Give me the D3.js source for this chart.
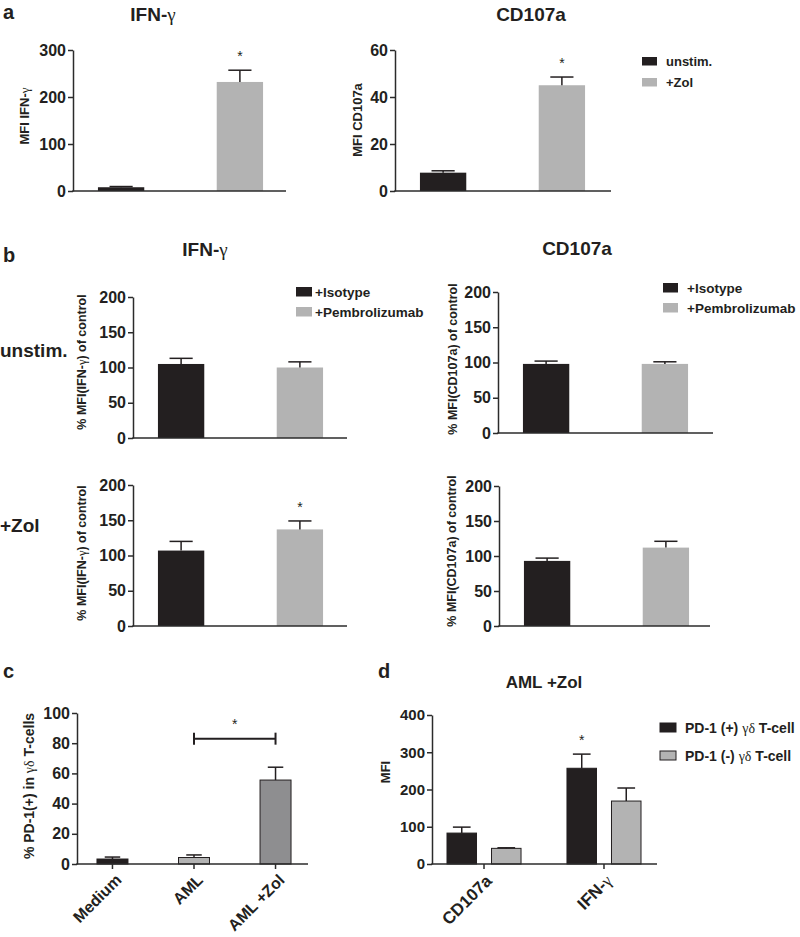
<!DOCTYPE html>
<html><head><meta charset="utf-8">
<script src="https://cdn.jsdelivr.net/npm/d3@7"></script>
<style>
body{margin:0;background:#fff;}
svg text{font-family:"Liberation Sans",Arial,Helvetica,sans-serif;font-weight:bold;fill:#231f20;}
</style></head><body>
<svg id="fig" width="800" height="937"></svg>
<script>
// ---------------- data ----------------
const aGroups = ["unstim.", "+Zol"];
const aIfnMean = [8, 232];
const aIfnSem = [1.5, 25];
const aIfnSig = [false, true];
const aCdMean = [7.8, 45];
const aCdSem = [0.8, 3.5];
const aCdSig = [false, true];
const aIfnTicks = [0, 100, 200, 300];
const aCdTicks = [0, 20, 40, 60];

const bGroups = ["+Isotype", "+Pembrolizumab"];
const bUnstimIfnMean = [105, 100];
const bUnstimIfnSem = [8, 8];
const bUnstimCdMean = [98, 98];
const bUnstimCdSem = [4, 3];
const bZolIfnMean = [107, 137];
const bZolIfnSem = [13, 12];
const bZolIfnSig = [false, true];
const bZolCdMean = [93, 112];
const bZolCdSem = [4, 9];
const bTicks = [0, 50, 100, 150, 200];

const cCategories = ["Medium", "AML", "AML +Zol"];
const cMean = [3.3, 4.3, 55.6];
const cSem = [1.3, 1.7, 8.5];
const cTicks = [0, 20, 40, 60, 80, 100];
const cBracketPair = ["AML", "AML +Zol"];
const cBracketValue = [83];

const dCategories = ["CD107a", "IFN-γ"];
const dSeries = ["PD-1 (+) γδ T-cell", "PD-1 (-) γδ T-cell"];
const dPosMean = [83, 257];
const dPosSem = [16, 38];
const dPosSig = [false, true];
const dNegMean = [42, 169];
const dNegSem = [1.5, 35];
const dTicks = [0, 100, 200, 300, 400];

// ---------------- styles ----------------
const DARK = "#231f20", LIGHT = "#b3b3b3", MID = "#8e8e90", AXIS = "#2b2b2b";
const svg = d3.select("#fig");

function addText(sel, str) {
  str.split(/([γδ])/).filter(s => s.length).forEach(s => {
    const t = sel.append("tspan").text(s);
    if (/[γδ]/.test(s)) t.style("font-family", "'Liberation Serif','DejaVu Serif',serif").style("font-weight", "normal");
  });
  return sel;
}
function label(x, y, str, size, anchor = "start", rot = 0) {
  const t = svg.append("text").attr("font-size", size).attr("text-anchor", anchor)
    .attr("transform", `translate(${x},${y}) rotate(${rot})`);
  addText(t, str);
  return t;
}
function yAxis(x0, x1, y0, yTop, max, ticks, fs) {
  const y = d3.scaleLinear().domain([0, max]).range([y0, yTop]);
  const g = svg.append("g").attr("transform", `translate(${x0},0)`)
    .call(d3.axisLeft(y).tickValues(ticks).tickSize(5).tickPadding(2).tickSizeOuter(0));
  g.attr("font-family", null).attr("font-size", fs);
  g.select(".domain").attr("stroke", AXIS).attr("stroke-width", 1.5);
  g.selectAll(".tick line").attr("stroke", AXIS).attr("stroke-width", 1.5);
  g.selectAll(".tick text").attr("fill", DARK);
  return y;
}
function xLine(x0, x1, y0) {
  svg.append("line").attr("x1", x0 - 0.75).attr("x2", x1).attr("y1", y0).attr("y2", y0)
    .attr("stroke", AXIS).attr("stroke-width", 1.5);
}
function errBar(cx, bw, yTopVal, yMeanVal) {
  const g = svg.append("g").attr("stroke", DARK).attr("stroke-width", 1.5);
  g.append("line").attr("x1", cx).attr("x2", cx).attr("y1", yMeanVal).attr("y2", yTopVal);
  g.append("line").attr("x1", cx - bw / 4).attr("x2", cx + bw / 4).attr("y1", yTopVal).attr("y2", yTopVal);
}
function star(cx, yErrTop) {
  svg.append("text").attr("x", cx).attr("y", yErrTop - 9).attr("text-anchor", "middle")
    .attr("font-size", 14).style("font-weight", "normal").text("*");
}

// simple two-bar panel (a, b)
function twoBar(cfg) {
  const x = d3.scaleBand().domain(cfg.cats).range([cfg.x0, cfg.x0 + 215])
    .paddingInner(0.61).paddingOuter(0.21);
  const y = d3.scaleLinear().domain([0, cfg.max]).range([cfg.y0, cfg.yTop]);
  const colors = [DARK, LIGHT];
  cfg.cats.forEach((c, i) => {
    svg.append("rect").attr("x", x(c)).attr("width", x.bandwidth())
      .attr("y", y(cfg.means[i])).attr("height", cfg.y0 - y(cfg.means[i])).attr("fill", colors[i]);
    const cx = x(c) + x.bandwidth() / 2;
    errBar(cx, x.bandwidth(), y(cfg.means[i] + cfg.sems[i]), y(cfg.means[i]));
    if (cfg.sig && cfg.sig[i]) star(cx, y(cfg.means[i] + cfg.sems[i]));
  });
  yAxis(cfg.x0, cfg.x1, cfg.y0, cfg.yTop, cfg.max, cfg.ticks, 16);
  xLine(cfg.x0, cfg.x1, cfg.y0);
  label(cfg.lx, cfg.ly, cfg.ylabel, cfg.lfs, "middle", -90);
}

// ---- panel a ----
label(3, 19, "a", 20);
label(153, 21, "IFN-γ", 19, "middle");
label(531, 21, "CD107a", 19, "middle");
twoBar({cats: aGroups, means: aIfnMean, sems: aIfnSem, sig: aIfnSig, x0: 73, x1: 286, y0: 191, yTop: 50,
  max: 300, ticks: aIfnTicks, ylabel: "MFI IFN-γ", lx: 29, ly: 116, lfs: 13});
twoBar({cats: aGroups, means: aCdMean, sems: aCdSem, sig: aCdSig, x0: 395, x1: 611, y0: 191, yTop: 50,
  max: 60, ticks: aCdTicks, ylabel: "MFI CD107a", lx: 362, ly: 120, lfs: 13});
// legend a
[DARK, LIGHT].forEach((col, i) => {
  svg.append("rect").attr("x", 642).attr("y", 57 + i * 21).attr("width", 15).attr("height", 8.5).attr("fill", col);
  label(666, 66 + i * 21, aGroups[i], 13);
});

// ---- panel b ----
label(3, 262, "b", 20);
label(205, 256, "IFN-γ", 19, "middle");
label(577, 255, "CD107a", 19, "middle");
label(0, 357, "unstim.", 19);
label(0, 532, "+Zol", 19);
twoBar({cats: bGroups, means: bUnstimIfnMean, sems: bUnstimIfnSem, x0: 133, x1: 347, y0: 438, yTop: 297,
  max: 200, ticks: bTicks, ylabel: "% MFI(IFN-γ) of control", lx: 86, ly: 362, lfs: 12.5});
twoBar({cats: bGroups, means: bUnstimCdMean, sems: bUnstimCdSem, x0: 498, x1: 713, y0: 433, yTop: 292,
  max: 200, ticks: bTicks, ylabel: "% MFI(CD107a) of control", lx: 457, ly: 359, lfs: 12.5});
twoBar({cats: bGroups, means: bZolIfnMean, sems: bZolIfnSem, sig: bZolIfnSig, x0: 133, x1: 347, y0: 626, yTop: 485,
  max: 200, ticks: bTicks, ylabel: "% MFI(IFN-γ) of control", lx: 86, ly: 553, lfs: 12.5});
twoBar({cats: bGroups, means: bZolCdMean, sems: bZolCdSem, x0: 499, x1: 710, y0: 626, yTop: 486,
  max: 200, ticks: bTicks, ylabel: "% MFI(CD107a) of control", lx: 456, ly: 551, lfs: 12.5});
// legends b
[DARK, LIGHT].forEach((col, i) => {
  svg.append("rect").attr("x", 296).attr("y", 287 + i * 20).attr("width", 16).attr("height", 9.5).attr("fill", col);
  label(315, 297 + i * 20, bGroups[i], 13.5);
  svg.append("rect").attr("x", 663).attr("y", 283 + i * 20).attr("width", 15).attr("height", 9.5).attr("fill", col);
  label(687, 293 + i * 20, bGroups[i], 13.5);
});

// ---- panel c ----
label(3, 678, "c", 20);
(function () {
  const x0 = 77, x1 = 308, y0 = 864, yTop = 713;
  const x = d3.scaleBand().domain(cCategories).range([x0, 311]).paddingInner(0.62).paddingOuter(0.245);
  const y = d3.scaleLinear().domain([0, 100]).range([y0, yTop]);
  const cols = [DARK, LIGHT, MID];
  cCategories.forEach((c, i) => {
    svg.append("rect").attr("x", x(c)).attr("width", x.bandwidth())
      .attr("y", y(cMean[i])).attr("height", y0 - y(cMean[i])).attr("fill", cols[i])
      .attr("stroke", DARK).attr("stroke-width", 1);
    const cx = x(c) + x.bandwidth() / 2;
    errBar(cx, x.bandwidth(), y(cMean[i] + cSem[i]), y(cMean[i]));
  });
  yAxis(x0, x1, y0, yTop, 100, cTicks, 16);
  const gx = svg.append("g").attr("transform", `translate(0,${y0})`)
    .call(d3.axisBottom(x).tickSize(5).tickSizeOuter(0).tickFormat(""));
  gx.select(".domain").remove();
  gx.selectAll(".tick line").attr("stroke", AXIS).attr("stroke-width", 1.5);
  xLine(x0, x1, y0);
  cCategories.forEach(c => {
    const cx = x(c) + x.bandwidth() / 2;
    label(cx + 10, y0 + 17, c, 16, "end", -45);
  });
  // significance bracket
  const bx1 = x(cBracketPair[0]) + x.bandwidth() / 2, bx2 = x(cBracketPair[1]) + x.bandwidth() / 2;
  const by = y(cBracketValue[0]);
  const bg = svg.append("g").attr("stroke", DARK).attr("stroke-width", 2);
  bg.append("line").attr("x1", bx1).attr("x2", bx2).attr("y1", by).attr("y2", by);
  bg.append("line").attr("x1", bx1).attr("x2", bx1).attr("y1", by - 6).attr("y2", by + 6);
  bg.append("line").attr("x1", bx2).attr("x2", bx2).attr("y1", by - 6).attr("y2", by + 6);
  star((bx1 + bx2) / 2, by - 1);
  label(34, 786, "% PD-1(+) in γδ T-cells", 14, "middle", -90);
})();

// ---- panel d ----
label(378, 678, "d", 20);
label(544, 688, "AML +Zol", 17, "middle");
(function () {
  const x0 = 432, x1 = 657, y0 = 864, yTop = 715;
  const x = d3.scaleBand().domain(dCategories).range([x0, 656]).paddingInner(0.383).paddingOuter(0.125);
  const xs = d3.scaleBand().domain(dSeries).range([0, x.bandwidth()]).paddingInner(0.337);
  const y = d3.scaleLinear().domain([0, 400]).range([y0, yTop]);
  const series = [
    {name: dSeries[0], mean: dPosMean, sem: dPosSem, sig: dPosSig, col: DARK},
    {name: dSeries[1], mean: dNegMean, sem: dNegSem, sig: [false, false], col: LIGHT}
  ];
  dCategories.forEach((c, i) => {
    series.forEach(s => {
      const bx = x(c) + xs(s.name);
      svg.append("rect").attr("x", bx).attr("width", xs.bandwidth())
        .attr("y", y(s.mean[i])).attr("height", y0 - y(s.mean[i])).attr("fill", s.col)
        .attr("stroke", DARK).attr("stroke-width", 1);
      const cx = bx + xs.bandwidth() / 2;
      errBar(cx, xs.bandwidth() * 1.2, y(s.mean[i] + s.sem[i]), y(s.mean[i]));
      if (s.sig[i]) star(cx, y(s.mean[i] + s.sem[i]));
    });
  });
  yAxis(x0, x1, y0, yTop, 400, dTicks, 15);
  const gx = svg.append("g").attr("transform", `translate(0,${y0})`)
    .call(d3.axisBottom(x).tickSize(5).tickSizeOuter(0).tickFormat(""));
  gx.select(".domain").remove();
  gx.selectAll(".tick line").attr("stroke", AXIS).attr("stroke-width", 1.5);
  xLine(x0, x1, y0);
  dCategories.forEach(c => {
    const cx = x(c) + x.bandwidth() / 2;
    label(cx + 9, y0 + 18, c, 17, "end", -45);
  });
  label(390, 772, "MFI", 13, "middle", -90);
  series.forEach((s, i) => {
    svg.append("rect").attr("x", 660).attr("y", 723 + i * 28).attr("width", 16).attr("height", 9)
      .attr("fill", s.col).attr("stroke", DARK).attr("stroke-width", 1);
    label(685, 733 + i * 28, s.name, 14);
  });
})();
</script>
</body></html>
